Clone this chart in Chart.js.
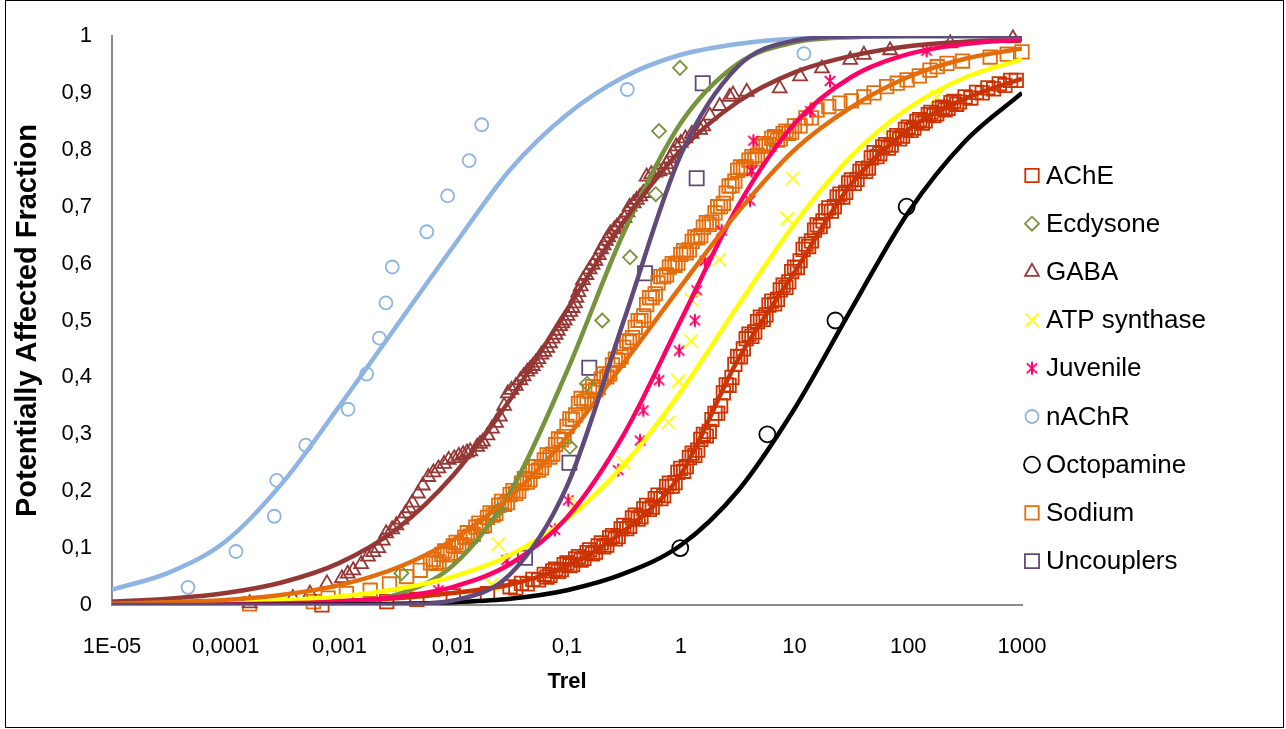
<!DOCTYPE html>
<html>
<head>
<meta charset="utf-8">
<title>Potentially Affected Fraction</title>
<script src="https://cdn.jsdelivr.net/npm/chart.js"></script>
<style>
  html, body { margin: 0; padding: 0; background: #fff; }
  #wrap { position: relative; width: 1286px; height: 729px; }
</style>
</head>
<body>
<div id="wrap"><canvas id="ssdChart"></canvas></div>
<script>
// ---- axis ticks ----
const xTickValues = [0.00001, 0.0001, 0.001, 0.01, 0.1, 1, 10, 100, 1000];
const xTickLabels = ['1E-05', '0,0001', '0,001', '0,01', '0,1', '1', '10', '100', '1000'];
const yTickValues = [0, 0.1, 0.2, 0.3, 0.4, 0.5, 0.6, 0.7, 0.8, 0.9, 1];
const yTickLabels = ['0', '0,1', '0,2', '0,3', '0,4', '0,5', '0,6', '0,7', '0,8', '0,9', '1'];

// ---- fitted curves, read every half decade ----
const curveX = [0.00001, 0.0000316, 0.0001, 0.000316, 0.001, 0.00316, 0.01, 0.0316, 0.1, 0.316, 1, 3.16, 10, 31.6, 100, 316, 1000];
const curveAChE       = [0.0005, 0.001, 0.002, 0.004, 0.007, 0.012, 0.021, 0.036, 0.068, 0.13, 0.23, 0.43, 0.585, 0.74, 0.835, 0.89, 0.925];
const curveEcdysone   = [0, 0, 0, 0.0004, 0.003, 0.018, 0.07, 0.198, 0.411, 0.655, 0.847, 0.951, 0.989, 0.998, 1, 1, 1];
const curveGABA       = [0.006, 0.011, 0.021, 0.04, 0.074, 0.133, 0.228, 0.361, 0.519, 0.674, 0.799, 0.884, 0.936, 0.965, 0.982, 0.99, 0.995];
const curveATP        = [0.001, 0.0025, 0.0046, 0.0083, 0.015, 0.028, 0.05, 0.088, 0.151, 0.246, 0.375, 0.525, 0.67, 0.789, 0.873, 0.927, 0.959];
const curveJuvenile   = [0, 0.0005, 0.001, 0.0026, 0.006, 0.014, 0.032, 0.072, 0.154, 0.3, 0.5, 0.7, 0.846, 0.928, 0.968, 0.986, 0.994];
const curveNAChR      = [0.027, 0.057, 0.112, 0.215, 0.35, 0.49, 0.63, 0.765, 0.862, 0.928, 0.967, 0.986, 0.995, 0.998, 1, 1, 1];
const curveOctopamine = [0, 0, 0, 0.0005, 0.001, 0.002, 0.005, 0.011, 0.026, 0.055, 0.105, 0.2, 0.345, 0.52, 0.69, 0.815, 0.9];
const curveSodium     = [0.002, 0.005, 0.009, 0.018, 0.035, 0.065, 0.115, 0.19, 0.295, 0.425, 0.56, 0.69, 0.8, 0.875, 0.928, 0.96, 0.978];
const curveUncouplers = [0, 0, 0, 0, 0, 0.0007, 0.008, 0.054, 0.209, 0.5, 0.791, 0.946, 0.992, 0.999, 1, 1, 1];

// ---- observed points [Trel, fraction] ----
const nachrPoints = [[0.0000466, 0.031], [0.000123, 0.094], [0.000267, 0.156], [0.000281, 0.219], [0.000505, 0.281],
  [0.00119, 0.344], [0.00173, 0.406], [0.00224, 0.469], [0.00256, 0.531], [0.00291, 0.594], [0.00585, 0.656],
  [0.00893, 0.719], [0.0138, 0.781], [0.0178, 0.844], [0.339, 0.906], [12.1, 0.969]];
const ecdysonePoints = [[0.0035, 0.056], [0.025, 0.167], [0.106, 0.278], [0.15, 0.389], [0.204, 0.5],
  [0.358, 0.611], [0.603, 0.722], [0.644, 0.833], [0.984, 0.944]];
const uncouplerPoints = [[0.0428, 0.083], [0.105, 0.25], [0.157, 0.417], [0.485, 0.583], [1.38, 0.75], [1.56, 0.917]];
const octopaminePoints = [[0.99, 0.1], [5.77, 0.3], [22.9, 0.5], [96.8, 0.7]];
const atpPoints = [[0.0218, 0.036], [0.0249, 0.107], [0.1216, 0.179], [0.313, 0.25], [0.778, 0.321], [0.953, 0.393],
  [1.23, 0.464], [1.25, 0.536], [2.18, 0.607], [8.65, 0.679], [9.64, 0.75], [69, 0.821], [178, 0.893]];
const juvenilePoints = [[0.0074, 0.026], [0.0295, 0.079], [0.0783, 0.132], [0.1026, 0.184], [0.2825, 0.237],
  [0.4385, 0.289], [0.469, 0.342], [0.644, 0.395], [0.97, 0.447], [1.33, 0.5], [1.38, 0.553], [1.63, 0.605],
  [2.29, 0.658], [4.06, 0.711], [4.2, 0.763], [4.35, 0.816], [13.8, 0.868], [20.5, 0.921], [145, 0.974]];
const gabaPoints = [[0.000162, 0.003], [0.000389, 0.012], [0.00055, 0.02], [0.000776, 0.038], [0.00105, 0.047],
  [0.00118, 0.055], [0.00132, 0.061], [0.00155, 0.072], [0.00178, 0.085], [0.00198, 0.093], [0.00219, 0.1],
  [0.0024, 0.113], [0.00257, 0.126], [0.0029, 0.133], [0.00316, 0.14], [0.0035, 0.15], [0.0038, 0.161],
  [0.0041, 0.17], [0.00437, 0.18], [0.0049, 0.196], [0.0054, 0.21], [0.00603, 0.225], [0.0067, 0.233],
  [0.00741, 0.24], [0.0083, 0.248], [0.00912, 0.255], [0.0102, 0.258], [0.0112, 0.262], [0.0122, 0.265],
  [0.0132, 0.268], [0.0141, 0.27], [0.0162, 0.278], [0.0172, 0.283], [0.0182, 0.287], [0.02, 0.298],
  [0.0219, 0.31], [0.0238, 0.32], [0.0257, 0.331], [0.028, 0.35], [0.0302, 0.372], [0.0325, 0.378],
  [0.0355, 0.385], [0.0389, 0.395], [0.0415, 0.402], [0.0447, 0.41], [0.0475, 0.415], [0.0501, 0.42],
  [0.053, 0.426], [0.056, 0.432], [0.0595, 0.44], [0.0631, 0.445], [0.067, 0.452], [0.071, 0.46],
  [0.075, 0.468], [0.0794, 0.475], [0.083, 0.482], [0.087, 0.49], [0.091, 0.495], [0.0955, 0.5],
  [0.101, 0.508], [0.107, 0.515], [0.112, 0.522], [0.1175, 0.53], [0.121, 0.54], [0.126, 0.55],
  [0.132, 0.56], [0.138, 0.571], [0.148, 0.58], [0.158, 0.59], [0.168, 0.598], [0.178, 0.605], [0.19, 0.615],
  [0.2, 0.625], [0.21, 0.632], [0.22, 0.64], [0.23, 0.646], [0.24, 0.653], [0.26, 0.66], [0.275, 0.665],
  [0.295, 0.672], [0.32, 0.68], [0.34, 0.69], [0.355, 0.7], [0.385, 0.706], [0.41, 0.712], [0.44, 0.718],
  [0.468, 0.724], [0.501, 0.753], [0.55, 0.757], [0.6, 0.76], [0.65, 0.762], [0.708, 0.765], [0.75, 0.775],
  [0.8, 0.785], [0.86, 0.795], [0.912, 0.806], [1, 0.812], [1.1, 0.82], [1.25, 0.828], [1.48, 0.835],
  [1.58, 0.841], [1.8, 0.86], [2.2, 0.877], [2.69, 0.893], [2.88, 0.897], [3.8, 0.902], [7.41, 0.908],
  [11.2, 0.929], [17.4, 0.943], [30.9, 0.958], [40.7, 0.967], [69.2, 0.975], [234, 0.987], [832, 0.996]];
const sodiumPoints = [[0.000162, 0.002], [0.000589, 0.006], [0.000794, 0.012], [0.00115, 0.02], [0.00186, 0.026],
  [0.00275, 0.037], [0.00389, 0.05], [0.00513, 0.061],
  [0.00631, 0.074], [0.00668, 0.08], [0.00708, 0.073], [0.0075, 0.076], [0.00794, 0.089], [0.00841, 0.095],
  [0.00891, 0.088], [0.00944, 0.091], [0.01, 0.104], [0.0106, 0.11], [0.0112, 0.103], [0.0119, 0.106],
  [0.0126, 0.119], [0.0133, 0.127], [0.0141, 0.121], [0.015, 0.124], [0.0158, 0.137], [0.0168, 0.144],
  [0.0178, 0.138], [0.0188, 0.14], [0.02, 0.154], [0.0211, 0.162], [0.0224, 0.158], [0.0237, 0.161],
  [0.0251, 0.175], [0.0266, 0.182], [0.0282, 0.177], [0.0299, 0.18], [0.0316, 0.194], [0.0335, 0.201],
  [0.0355, 0.196], [0.0376, 0.2], [0.0398, 0.214], [0.0422, 0.222], [0.0447, 0.216], [0.0473, 0.22],
  [0.0501, 0.235], [0.0531, 0.243], [0.0562, 0.237], [0.0596, 0.241], [0.0631, 0.255], [0.0668, 0.264],
  [0.0708, 0.26], [0.075, 0.265], [0.0794, 0.282], [0.0841, 0.292], [0.0891, 0.29], [0.0944, 0.296],
  [0.1, 0.314], [0.106, 0.327], [0.112, 0.326], [0.119, 0.334], [0.126, 0.354], [0.133, 0.363],
  [0.141, 0.358], [0.15, 0.362], [0.158, 0.376], [0.168, 0.384], [0.178, 0.378], [0.188, 0.382],
  [0.2, 0.397], [0.211, 0.406], [0.224, 0.401], [0.237, 0.406], [0.251, 0.422], [0.266, 0.432],
  [0.282, 0.43], [0.299, 0.436], [0.316, 0.453], [0.335, 0.464], [0.355, 0.462], [0.376, 0.47],
  [0.398, 0.488], [0.422, 0.5], [0.447, 0.5], [0.473, 0.508], [0.501, 0.528], [0.531, 0.54], [0.562, 0.54],
  [0.596, 0.547], [0.631, 0.566], [0.668, 0.577], [0.708, 0.577], [0.75, 0.58], [0.794, 0.594], [0.841, 0.6],
  [0.891, 0.597], [0.944, 0.601], [1, 0.616], [1.06, 0.623], [1.12, 0.619], [1.19, 0.624], [1.26, 0.639],
  [1.33, 0.647], [1.41, 0.645], [1.5, 0.649], [1.58, 0.664], [1.68, 0.672], [1.78, 0.669], [1.88, 0.673],
  [2, 0.689], [2.11, 0.7], [2.24, 0.7], [2.37, 0.706], [2.51, 0.724], [2.66, 0.736], [2.82, 0.737],
  [2.99, 0.745], [3.16, 0.764], [3.35, 0.77], [3.55, 0.767], [3.76, 0.77], [3.98, 0.782], [4.22, 0.788],
  [4.47, 0.784], [4.73, 0.79], [5.01, 0.806], [5.31, 0.811], [5.62, 0.807], [5.96, 0.809], [6.31, 0.82],
  [6.68, 0.823], [7.08, 0.817], [7.5, 0.819], [7.94, 0.829], [8.41, 0.833], [8.91, 0.829], [9.44, 0.831],
  [10, 0.842], [11.2, 0.842], [12.6, 0.856], [14.1, 0.856], [15.8, 0.87], [20, 0.876],
  [25.1, 0.882], [31.6, 0.886], [40.7, 0.893], [50, 0.9], [64.6, 0.911], [80, 0.917], [97.7, 0.923],
  [125, 0.93], [155, 0.94], [180, 0.946], [219, 0.952], [300, 0.956], [525, 0.963], [741, 0.968], [1000, 0.972]];
const achePoints = [[0.0007, 0.0], [0.0026, 0.006], [0.00479, 0.01], [0.01, 0.016], [0.02, 0.02],
  [0.0316, 0.032], [0.0355, 0.03], [0.0398, 0.038], [0.0447, 0.037], [0.0501, 0.045], [0.0562, 0.044],
  [0.0631, 0.054], [0.0668, 0.049], [0.0708, 0.052], [0.075, 0.06], [0.0794, 0.063], [0.0841, 0.059],
  [0.0891, 0.062], [0.0944, 0.071], [0.1, 0.074], [0.106, 0.069], [0.112, 0.071], [0.119, 0.081],
  [0.126, 0.085], [0.133, 0.079], [0.141, 0.082], [0.15, 0.092], [0.158, 0.097], [0.168, 0.09],
  [0.178, 0.093], [0.188, 0.104], [0.2, 0.109], [0.211, 0.102], [0.224, 0.105], [0.237, 0.118],
  [0.251, 0.122], [0.266, 0.116], [0.282, 0.12], [0.299, 0.134], [0.316, 0.14], [0.335, 0.134],
  [0.355, 0.138], [0.376, 0.153], [0.398, 0.158], [0.422, 0.151], [0.447, 0.155], [0.473, 0.169],
  [0.501, 0.175], [0.531, 0.168], [0.562, 0.172], [0.596, 0.187], [0.631, 0.193], [0.668, 0.187],
  [0.708, 0.192], [0.75, 0.208], [0.794, 0.214], [0.841, 0.209], [0.891, 0.215], [0.944, 0.233],
  [1, 0.24], [1.06, 0.235], [1.12, 0.243], [1.19, 0.259], [1.26, 0.267], [1.33, 0.263], [1.41, 0.272],
  [1.5, 0.291], [1.58, 0.3], [1.68, 0.297], [1.78, 0.305], [1.88, 0.326], [2, 0.337], [2.11, 0.337],
  [2.24, 0.35], [2.37, 0.373], [2.51, 0.387], [2.66, 0.386], [2.82, 0.4], [2.99, 0.423], [3.16, 0.437],
  [3.35, 0.436], [3.55, 0.45], [3.76, 0.468], [3.98, 0.476], [4.22, 0.472], [4.47, 0.48], [4.73, 0.498],
  [5.01, 0.506], [5.31, 0.502], [5.62, 0.51], [5.96, 0.527], [6.31, 0.534], [6.68, 0.529], [7.08, 0.537],
  [7.5, 0.554], [7.94, 0.562], [8.41, 0.558], [8.91, 0.568], [9.44, 0.586], [10, 0.594], [10.6, 0.593],
  [11.2, 0.605], [11.9, 0.625], [12.6, 0.634], [13.3, 0.63], [14.1, 0.64], [15, 0.659], [15.8, 0.668],
  [16.8, 0.665], [17.8, 0.675], [18.8, 0.692], [20, 0.698], [21.1, 0.692], [22.4, 0.7], [23.7, 0.717],
  [25.1, 0.722], [26.6, 0.717], [28.2, 0.725], [29.9, 0.742], [31.6, 0.747], [33.5, 0.741], [35.5, 0.748],
  [37.6, 0.762], [39.8, 0.767], [42.2, 0.762], [44.7, 0.768], [47.3, 0.786], [50.1, 0.795], [53.1, 0.788],
  [56.2, 0.793], [59.6, 0.805], [63.1, 0.809], [66.8, 0.803], [70.8, 0.808], [75, 0.821], [79.4, 0.825],
  [84.1, 0.819], [89.1, 0.824], [94.4, 0.836], [100, 0.84], [106, 0.834], [112, 0.838], [119, 0.85],
  [126, 0.853], [133, 0.847], [141, 0.851], [150, 0.862], [158, 0.866], [168, 0.86], [178, 0.863],
  [188, 0.873], [200, 0.875], [211, 0.87], [224, 0.873], [237, 0.883], [251, 0.885], [266, 0.88],
  [282, 0.884], [316, 0.893], [355, 0.891], [398, 0.901], [447, 0.9], [501, 0.909], [562, 0.907],
  [631, 0.916], [708, 0.913], [794, 0.922], [891, 0.922]];

const FONT = "'Liberation Sans', Arial, sans-serif";

// Excel style asterisk: an X with a vertical bar
function makeStarMarker(color, size) {
    const c = document.createElement('canvas');
    c.width = size;
    c.height = size;
    const g = c.getContext('2d');
    const m = size / 2;
    const r = size / 2 - 1.5;
    g.strokeStyle = color;
    g.lineWidth = 2;
    g.beginPath();
    g.moveTo(m, m - r); g.lineTo(m, m + r);
    g.moveTo(m - r * 0.8, m - r * 0.75); g.lineTo(m + r * 0.8, m + r * 0.75);
    g.moveTo(m + r * 0.8, m - r * 0.75); g.lineTo(m - r * 0.8, m + r * 0.75);
    g.stroke();
    return c;
}

const series = [
    { label: 'AChE',         points: achePoints,       curve: curveAChE,       color: '#CC3300', style: 'rect',      radius: 9.5 },
    { label: 'Ecdysone',     points: ecdysonePoints,   curve: curveEcdysone,   color: '#77933C', style: 'rectRot',   radius: 7 },
    { label: 'GABA',         points: gabaPoints,       curve: curveGABA,       color: '#953735', style: 'triangle',  radius: 8 },
    { label: 'ATP synthase', points: atpPoints,        curve: curveATP,        color: '#FFFF00', style: 'crossRot',  radius: 9.5 },
    { label: 'Juvenile',     points: juvenilePoints,   curve: curveJuvenile,   color: '#FF0066', style: makeStarMarker('#FF0066', 16), radius: 8 },
    { label: 'nAChR',        points: nachrPoints,      curve: curveNAChR,      color: '#8DB4E2', style: 'circle',    radius: 6.5 },
    { label: 'Octopamine',   points: octopaminePoints, curve: curveOctopamine, color: '#000000', style: 'circle',    radius: 8 },
    { label: 'Sodium',       points: sodiumPoints,     curve: curveSodium,     color: '#E46C0A', style: 'rect',      radius: 9.5 },
    { label: 'Uncouplers',   points: uncouplerPoints,  curve: curveUncouplers, color: '#604A7B', style: 'rect',      radius: 10 }
];

const datasets = [];
series.forEach((s, i) => {
    datasets.push({
        type: 'scatter',
        label: s.label,
        data: s.points.map(p => ({ x: p[0], y: p[1] })),
        showLine: false,
        pointStyle: s.style,
        pointRadius: s.radius,
        pointBorderWidth: 1.8,
        borderColor: s.color,
        backgroundColor: 'rgba(0,0,0,0)',
        clip: false,
        order: 20
    });
    datasets.push({
        type: 'line',
        label: s.label + ' fit',
        data: curveX.map((x, k) => ({ x: x, y: s.curve[k] })),
        borderColor: s.color,
        borderWidth: 4.5,
        pointRadius: 0,
        fill: false,
        cubicInterpolationMode: 'monotone',
        order: 10 - i
    });
});

// legend on the right and the outer frame of the picture
const legendAndFrame = {
    id: 'legendAndFrame',
    afterDraw(chart) {
        const ctx = chart.ctx;
        ctx.save();
        let y = 175.5;
        series.forEach(s => {
            ctx.strokeStyle = s.color;
            ctx.fillStyle = 'rgba(0,0,0,0)';
            ctx.lineWidth = 1.8;
            Chart.helpers.drawPoint(ctx, { pointStyle: s.style, radius: s.radius, borderWidth: 1.8, rotation: 0 }, 1032, y);
            ctx.fillStyle = '#000';
            ctx.font = '26px ' + FONT;
            ctx.textAlign = 'left';
            ctx.textBaseline = 'middle';
            ctx.fillText(s.label, 1046, y + 1);
            y += 48.2;
        });
        ctx.strokeStyle = '#000';
        ctx.lineWidth = 1;
        ctx.strokeRect(5.5, 0.5, 1278, 727);
        ctx.restore();
    }
};

new Chart(document.getElementById('ssdChart'), {
    type: 'scatter',
    data: { datasets: datasets },
    plugins: [legendAndFrame],
    options: {
        responsive: true,
        maintainAspectRatio: false,
        animation: false,
        events: [],
        layout: { padding: { left: 0, right: 264, top: 36, bottom: 0 } },
        plugins: {
            legend: { display: false },
            tooltip: { enabled: false }
        },
        scales: {
            x: {
                type: 'logarithmic',
                min: 0.00001,
                max: 1000,
                afterBuildTicks: scale => { scale.ticks = xTickValues.map(v => ({ value: v })); },
                afterFit: scale => { scale.height = 124; },
                grid: { display: false },
                border: { display: true, color: '#8c8c8c', width: 2 },
                ticks: {
                    autoSkip: false,
                    maxRotation: 0,
                    padding: 21,
                    color: '#000',
                    font: { family: FONT, size: 22 },
                    callback: (value, index) => xTickLabels[index]
                },
                title: {
                    display: true,
                    text: 'Trel',
                    color: '#000',
                    font: { family: FONT, size: 22, weight: 'bold' },
                    padding: { top: 0, bottom: 34 }
                }
            },
            y: {
                min: 0,
                max: 1,
                afterBuildTicks: scale => { scale.ticks = yTickValues.map(v => ({ value: v })); },
                afterFit: scale => { scale.width = 112; },
                grid: { display: false },
                border: { display: true, color: '#8c8c8c', width: 2 },
                ticks: {
                    padding: 12,
                    color: '#000',
                    font: { family: FONT, size: 22 },
                    callback: (value, index) => yTickLabels[index]
                },
                title: {
                    display: true,
                    text: 'Potentially Affected Fraction',
                    color: '#000',
                    font: { family: FONT, size: 29, weight: 'bold' },
                    padding: { top: 11, bottom: 0 }
                }
            }
        }
    }
});
</script>
</body>
</html>
